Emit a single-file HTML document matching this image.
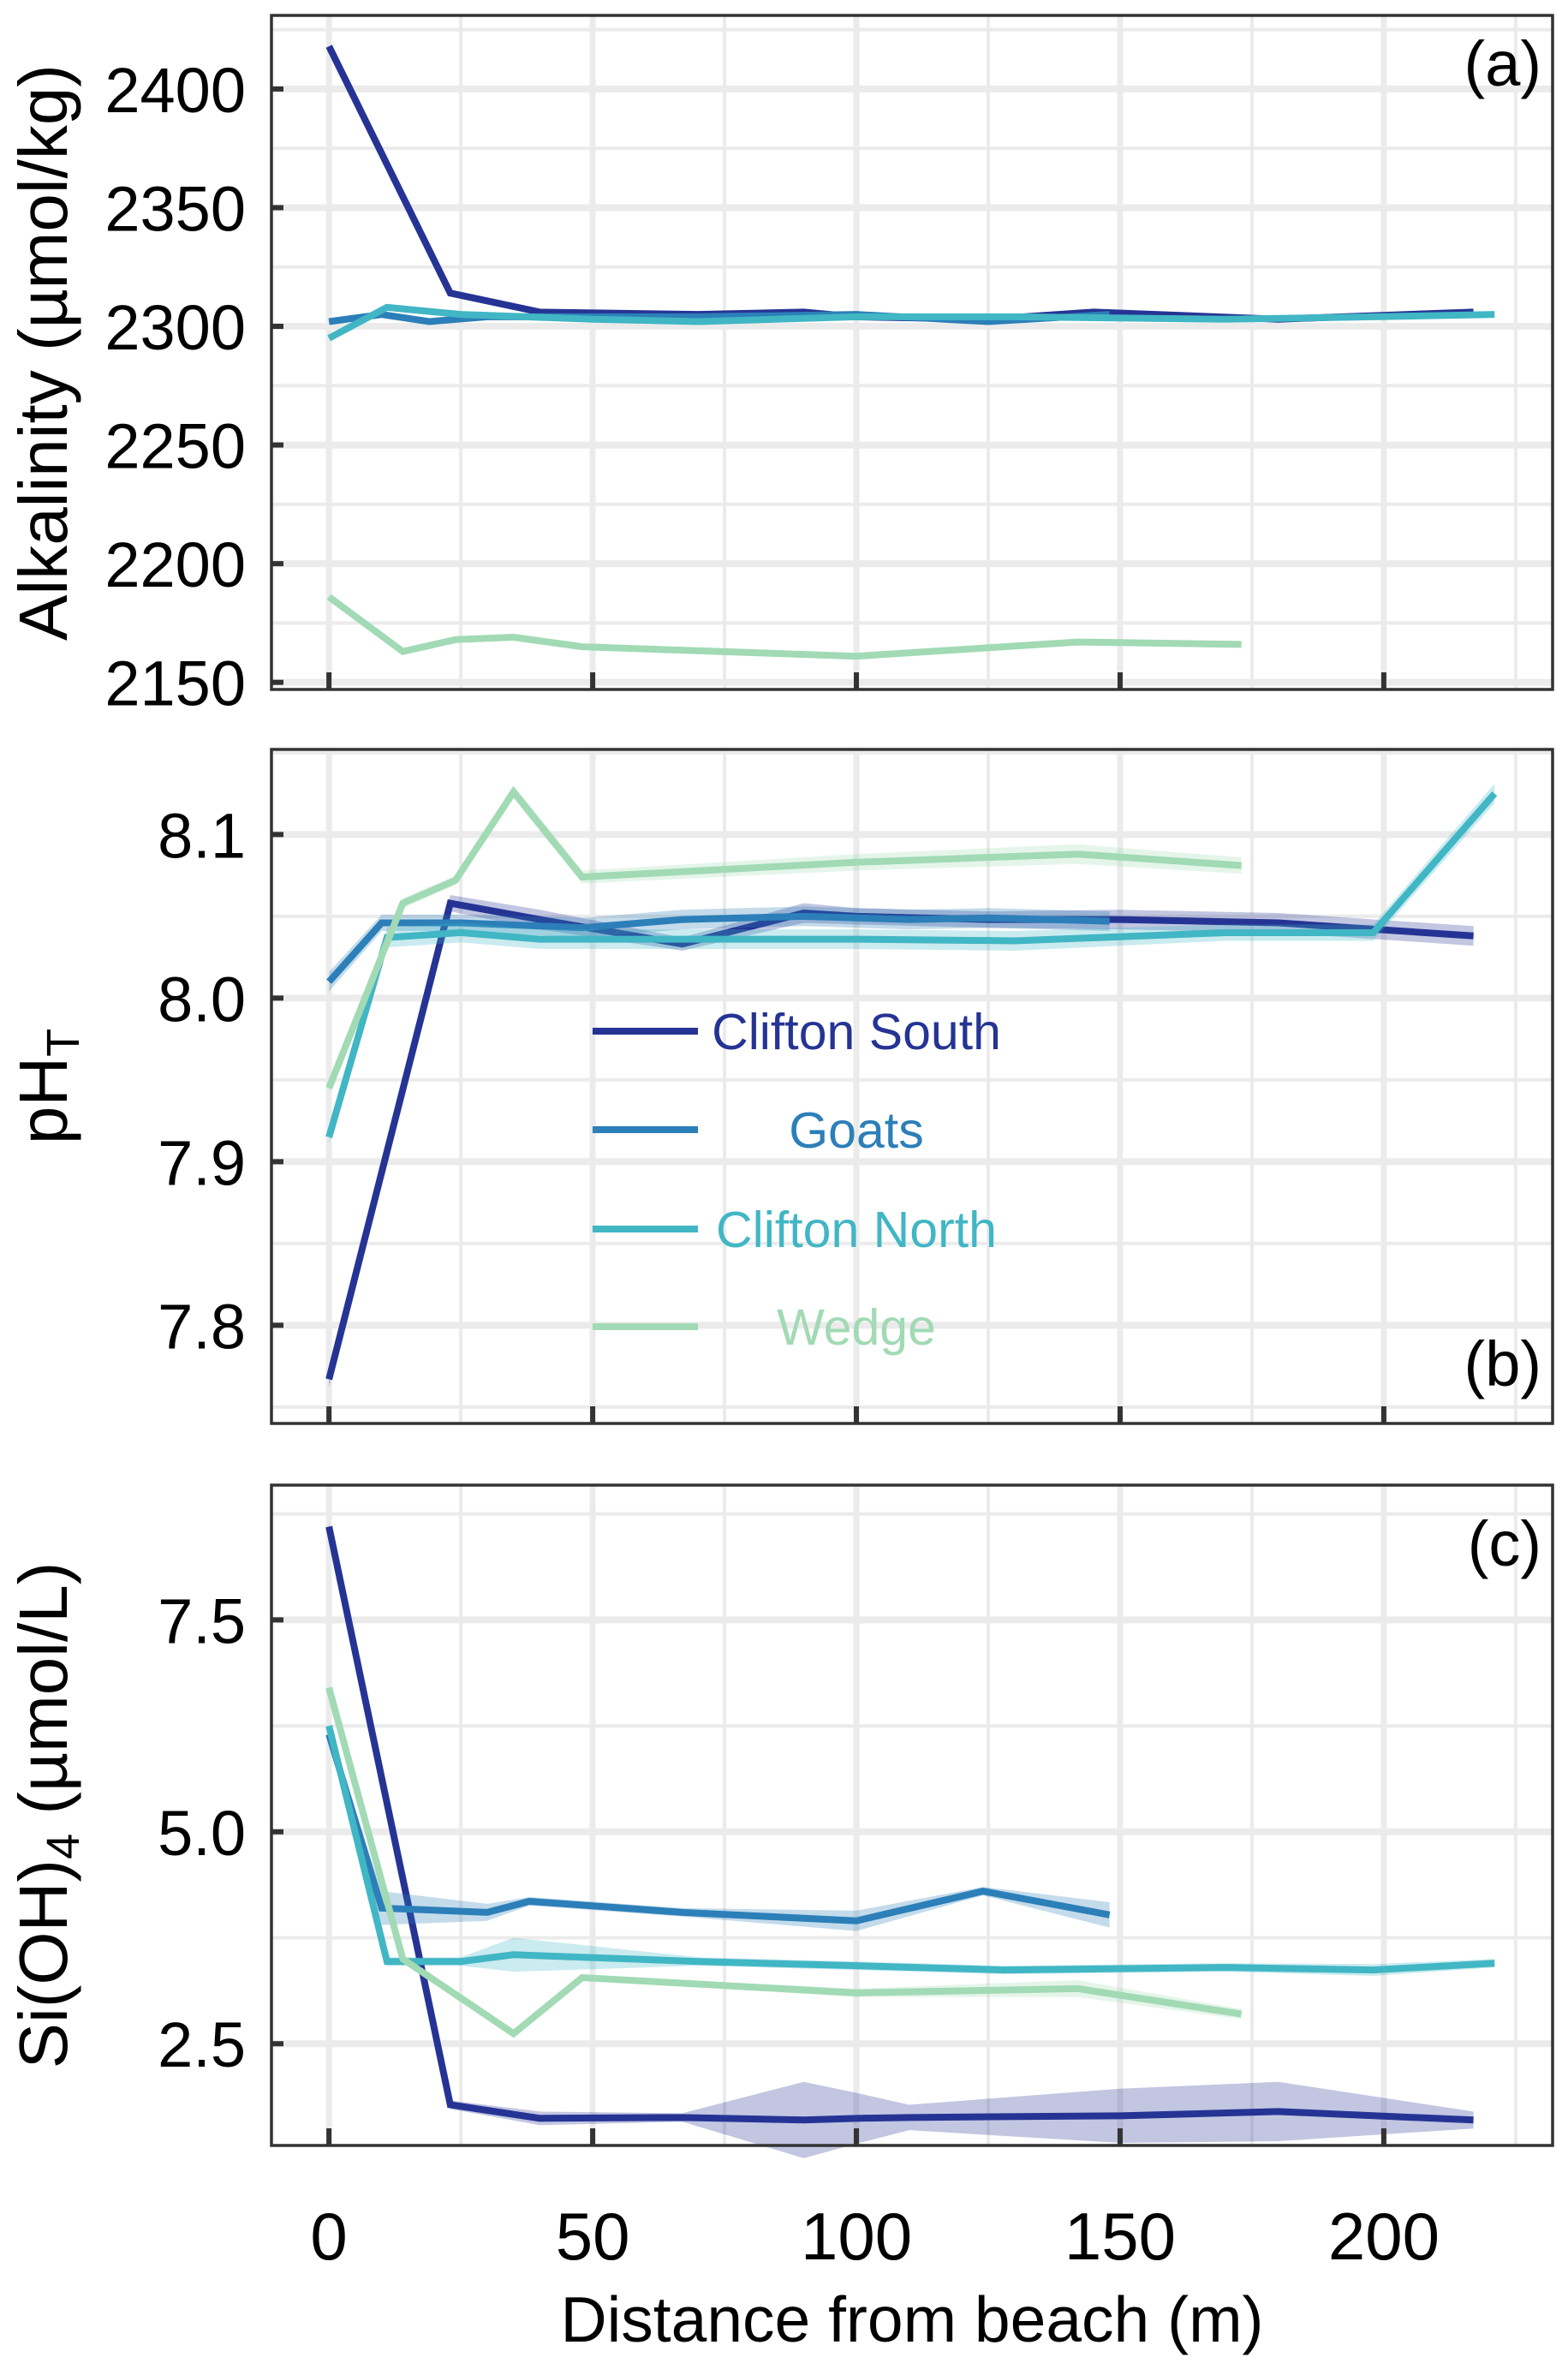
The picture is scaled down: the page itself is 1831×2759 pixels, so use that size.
<!DOCTYPE html>
<html><head><meta charset="utf-8"><style>
html,body{margin:0;padding:0;background:#fff;}
svg{display:block;font-family:"Liberation Sans",Arial,sans-serif;}
</style></head><body>
<svg id="chart" width="1831" height="2759" xmlns="http://www.w3.org/2000/svg"></svg>
<script>
const seriesNames = ["Clifton South","Goats","Clifton North","Wedge"];
const seriesColors = ["#253494","#2c7fb8","#41b6c4","#a1dab4"];
const xTicks = [0,50,100,150,200];

// Panel a: alkalinity
const alkCSx = [0,23,40,70,90,100,125,145,180,217];
const alkCSy = [2418,2314,2306,2305,2306,2304,2303,2306,2303,2306];
const alkGOx = [0,10,19,30,70,100,125,148];
const alkGOy = [2302,2305,2302,2304,2304,2305,2302,2305];
const alkCNx = [0,11,25,50,70,100,130,170,198,221];
const alkCNy = [2295,2308,2305,2303,2302,2304,2304,2303,2304,2305];
const alkWEx = [0,14,24,35,48,100,142,173];
const alkWEy = [2186,2163,2168,2169,2165,2161,2167,2166];
const alkTicks = [2150,2200,2250,2300,2350,2400];

// Panel b: pH
const phCSx = [0,23,40,67,90,100,125,150,180,217];
const phCSy = [7.767,8.058,8.048,8.033,8.052,8.05,8.048,8.048,8.046,8.038];
const phCSe = [0.005,0.005,0.006,0.004,0.006,0.005,0.005,0.006,0.006,0.006];
const phGOx = [0,10,25,48,67,90,110,125,148];
const phGOy = [8.01,8.046,8.046,8.043,8.048,8.05,8.048,8.049,8.047];
const phGOe = [0.006,0.005,0.005,0.006,0.006,0.006,0.006,0.006,0.006];
const phCNx = [0,11,25,40,100,130,170,198,221];
const phCNy = [7.915,8.037,8.04,8.036,8.036,8.035,8.04,8.04,8.125];
const phCNe = [0.004,0.006,0.006,0.006,0.006,0.006,0.005,0.005,0.006];
const phWEx = [0,14,24,35,48,100,142,173];
const phWEy = [7.945,8.058,8.072,8.126,8.074,8.083,8.088,8.081];
const phWEe = [0.003,0.003,0.003,0.004,0.004,0.005,0.006,0.005];
const phTicks = [7.8,7.9,8.0,8.1];

// Panel c: silicate
const siCSx = [0,23,40,67,90,100,110,150,180,217];
const siCSy = [8.6,1.78,1.62,1.63,1.6,1.62,1.63,1.65,1.7,1.6];
const siCSe = [0.05,0.05,0.08,0.05,0.45,0.3,0.15,0.32,0.35,0.1];
const siGOx = [0,10,30,38,67,100,124,148];
const siGOy = [6.15,4.1,4.05,4.18,4.05,3.95,4.3,4.02];
const siGOe = [0.05,0.2,0.1,0.05,0.05,0.12,0.05,0.15];
const siCNx = [0,11,25,35,70,100,128,170,198,221];
const siCNy = [6.25,3.47,3.47,3.55,3.47,3.42,3.37,3.4,3.37,3.45];
const siCNe = [0.05,0.05,0.05,0.2,0.05,0.05,0.05,0.05,0.07,0.05];
const siWEx = [0,14,35,48,100,142,173];
const siWEy = [6.7,3.5,2.62,3.28,3.1,3.15,2.85];
const siWEe = [0.03,0.03,0.03,0.03,0.05,0.1,0.06];
const siTicks = [2.5,5.0,7.5];

const NS="http://www.w3.org/2000/svg";
const svg=document.getElementById('chart');
function mk(tag,attrs,parent){const e=document.createElementNS(NS,tag);for(const k in attrs)e.setAttribute(k,attrs[k]);(parent||svg).appendChild(e);return e;}

const L=317,R=1813;
const xMin=-10.9,xMax=232;
function X(v){return L+(v-xMin)/(xMax-xMin)*(R-L);}

function panel(key,top,bot,yMin,yMax,majors,minors,fmt,label,title,subTitle,series){
  const g=mk('g',{});
  
  
  const Y=v=>bot-(v-yMin)/(yMax-yMin)*(bot-top);
  for(let v=-25;v<=250;v+=25){const xx=X(v);if(xx<L||xx>R)continue;
    const ln=mk('line',{x1:xx,x2:xx,y1:top,y2:bot,stroke:'#ebebeb','stroke-width':v%50===0?7:4},g);
    }
  minors.forEach(v=>{const yy=Y(v);if(yy<top||yy>bot)return;
    const ln=mk('line',{x1:L,x2:R,y1:yy,y2:yy,stroke:'#ebebeb','stroke-width':4},g);
    });
  majors.forEach(v=>{const yy=Y(v);
    const ln=mk('line',{x1:L,x2:R,y1:yy,y2:yy,stroke:'#ebebeb','stroke-width':8},g);
    });
  series.forEach((s,i)=>{
    if(s.e){
      let up=s.x.map((x,j)=>X(x)+','+Y(s.y[j]+s.e[j]));
      let dn=s.x.map((x,j)=>X(x)+','+Y(s.y[j]-s.e[j])).reverse();
      const b=mk('polygon',{points:up.concat(dn).join(' '),fill:seriesColors[i],opacity:0.28},g);
      
      
    }
    const p=mk('polyline',{points:s.x.map((x,j)=>X(x)+','+Y(s.y[j])).join(' '),fill:'none',stroke:seriesColors[i],'stroke-width':8,'stroke-linejoin':'miter'},g);
    
    
  });
  const fr=mk('rect',{x:L,y:top,width:R-L,height:bot-top,fill:'none',stroke:'#333','stroke-width':3.5},g);
  
  xTicks.forEach(v=>{const t=mk('line',{x1:X(v),x2:X(v),y1:bot,y2:bot-20,stroke:'#333','stroke-width':6},g);
    });
  majors.forEach(v=>{const yy=Y(v);
    const t=mk('line',{x1:L,x2:L+14,y1:yy,y2:yy,stroke:'#333','stroke-width':6},g);
    
    const tx=mk('text',{x:L-30,y:yy+27,'text-anchor':'end','font-size':74,fill:'#000'},g);
    tx.textContent=fmt(v);
    });
  const pl=mk('text',{x:1800,y:label.y,'text-anchor':'end','font-size':74,fill:'#000'},g);
  pl.textContent=label.t;
  const cy=(top+bot)/2;
  const yt=mk('text',{x:0,y:0,'text-anchor':'middle','font-size':80,fill:'#000',transform:'translate(78,'+cy+') rotate(-90)'},g);
  
  yt.textContent=title;
  if(subTitle){const ts=mk('tspan',{'font-size':54,dy:14},yt);ts.textContent=subTitle.sub;
    const ts2=mk('tspan',{dy:-14},yt);ts2.textContent=subTitle.rest;}
  return Y;
}

panel('alkalinity',18,805,2147,2431,alkTicks,[2175,2225,2275,2325,2375,2425],v=>String(v),{t:'(a)',y:100},'Alkalinity (\u00b5mol/kg)',null,
  [{x:alkCSx,y:alkCSy},{x:alkGOx,y:alkGOy},{x:alkCNx,y:alkCNy},{x:alkWEx,y:alkWEy}]);
panel('ph',875,1662,7.74,8.152,phTicks,[7.75,7.85,7.95,8.05,8.15],v=>v.toFixed(1),{t:'(b)',y:1618},'pH',{sub:'T',rest:''},
  [{x:phCSx,y:phCSy,e:phCSe},{x:phGOx,y:phGOy,e:phGOe},{x:phCNx,y:phCNy,e:phCNe},{x:phWEx,y:phWEy,e:phWEe}]);
panel('silicate',1734,2505,1.30,9.09,siTicks,[1.25,3.75,6.25,8.75],v=>v.toFixed(1),{t:'(c)',y:1828},'Si(OH)',{sub:'4',rest:' (\u00b5mol/L)'},
  [{x:siCSx,y:siCSy,e:siCSe},{x:siGOx,y:siGOy,e:siGOe},{x:siCNx,y:siCNy,e:siCNe},{x:siWEx,y:siWEy,e:siWEe}]);

xTicks.forEach(v=>{const t=mk('text',{x:X(v),y:2638,'text-anchor':'middle','font-size':78,fill:'#000'});
  t.textContent=String(v);
  
  });
const xt=mk('text',{x:1065,y:2734,'text-anchor':'middle','font-size':75,fill:'#000'});
xt.textContent='Distance from beach (m)';



const legY=[1204,1319,1435,1549];
seriesNames.forEach((n,i)=>{
  const g=mk('g',{});
  
  
  mk('line',{x1:692,x2:815,y1:legY[i],y2:legY[i],stroke:seriesColors[i],'stroke-width':8},g);
  const t=mk('text',{x:1000,y:legY[i]+21,'text-anchor':'middle','font-size':59,fill:seriesColors[i]},g);
  t.textContent=n;
});
</script>
</body></html>
